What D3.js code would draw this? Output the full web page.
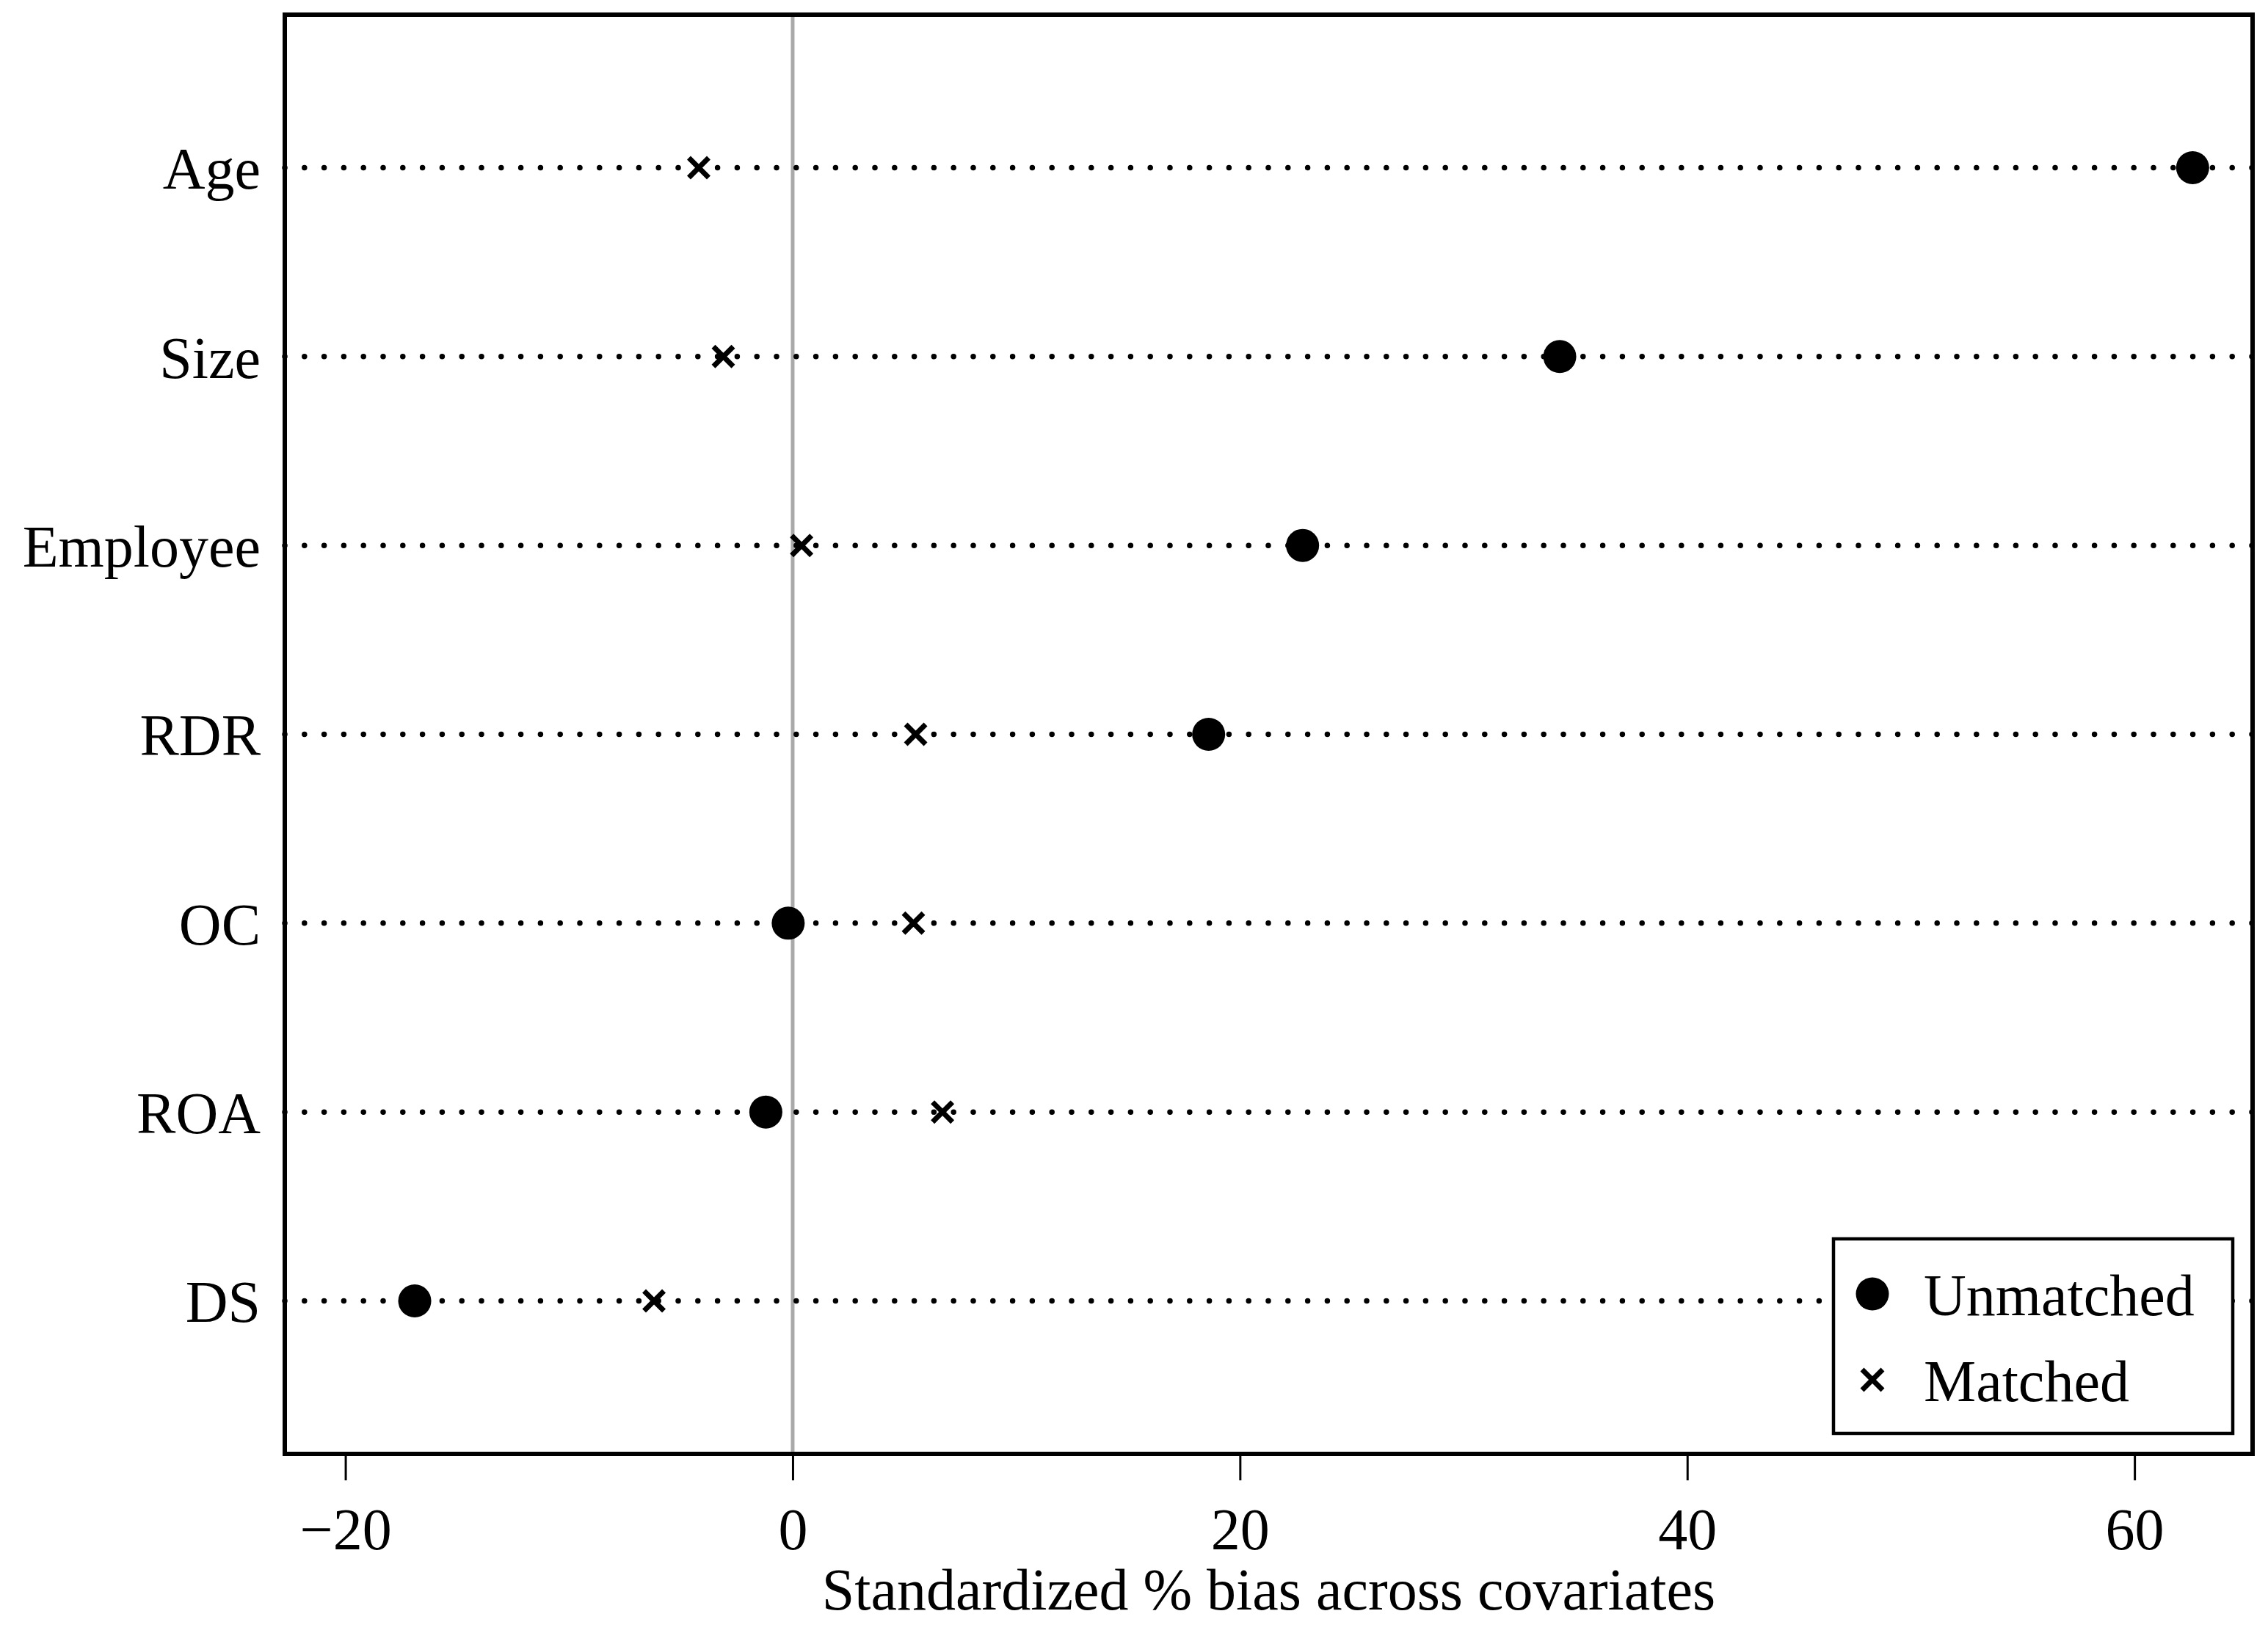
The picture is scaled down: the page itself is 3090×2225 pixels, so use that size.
<!DOCTYPE html>
<html>
<head>
<meta charset="utf-8">
<script src="https://cdn.jsdelivr.net/npm/d3@7"></script>
<style>
  body { margin: 0; background: #fff; }
  text { font-family: "Liberation Serif", "Times New Roman", serif; fill: #000; }
</style>
</head>
<body>
<div id="chart"></div>
<script>
  var covariates = ["Age", "Size", "Employee", "RDR", "OC", "ROA", "DS"],
      unmatched = [62.6, 34.3, 22.8, 18.6, -0.2, -1.2, -16.9],
      matched = [-4.2, -3.1, 0.4, 5.5, 5.4, 6.7, -6.2],
      xTicks = [-20, 0, 20, 40, 60],
      legendLabels = ["Unmatched", "Matched"];

  var W = 3090, H = 2225,
      frame = { left: 388, right: 3069, top: 20, bottom: 1981 },
      fontSize = 80;

  const svg = d3.select("#chart").append("svg")
      .attr("width", W)
      .attr("height", H);

  var x = d3.scaleLinear().domain([-22.71, 65.28]).range([frame.left, frame.right]);
  var y = d3.scalePoint().domain(covariates).range([frame.top, frame.bottom]).padding(0.81);

  // zero reference line
  svg.append("line")
      .attr("x1", x(0)).attr("x2", x(0))
      .attr("y1", frame.top).attr("y2", frame.bottom)
      .attr("stroke", "#a9a9a9")
      .attr("stroke-width", 5);

  // dotted guide lines
  svg.selectAll(".guide")
      .data(covariates)
      .enter().append("line")
        .attr("class", "guide")
        .attr("x1", frame.left).attr("x2", frame.right)
        .attr("y1", function(d) { return y(d); })
        .attr("y2", function(d) { return y(d); })
        .attr("stroke", "#000")
        .attr("stroke-width", 7.5)
        .attr("stroke-linecap", "round")
        .attr("stroke-dasharray", "0 26.8");

  // row labels
  svg.selectAll(".rowLabel")
      .data(covariates)
      .enter().append("text")
        .attr("class", "rowLabel")
        .attr("x", 355)
        .attr("y", function(d) { return y(d); })
        .attr("dy", "0.36em")
        .style("text-anchor", "end")
        .style("font-size", fontSize + "px")
        .text(function(d) { return d; });

  function cross(sel, half) {
    sel.attr("d", "M" + (-half) + "," + (-half) + "L" + half + "," + half +
                  "M" + (-half) + "," + half + "L" + half + "," + (-half))
       .attr("fill", "none")
       .attr("stroke", "#000")
       .attr("stroke-width", 7);
  }

  // matched markers
  svg.selectAll(".matched")
      .data(matched)
      .enter().append("path")
        .attr("class", "matched")
        .attr("transform", function(d, i) { return "translate(" + x(d) + "," + y(covariates[i]) + ")"; })
        .call(cross, 13.5);

  // unmatched markers
  svg.selectAll(".unmatched")
      .data(unmatched)
      .enter().append("circle")
        .attr("class", "unmatched")
        .attr("cx", function(d) { return x(d); })
        .attr("cy", function(d, i) { return y(covariates[i]); })
        .attr("r", 22.5)
        .attr("fill", "#000");

  // frame
  svg.append("rect")
      .attr("x", frame.left).attr("y", frame.top)
      .attr("width", frame.right - frame.left)
      .attr("height", frame.bottom - frame.top)
      .attr("fill", "none")
      .attr("stroke", "#000")
      .attr("stroke-width", 6);

  // x axis
  var xAxis = d3.axisBottom(x)
      .tickValues(xTicks)
      .tickSize(36)
      .tickSizeOuter(0)
      .tickPadding(37);

  var gx = svg.append("g")
      .attr("transform", "translate(0," + frame.bottom + ")")
      .call(xAxis);
  gx.select(".domain").remove();
  gx.selectAll(".tick line").attr("stroke", "#000").attr("stroke-width", 3);
  gx.selectAll(".tick text")
      .style("font-size", fontSize + "px")
      .style("font-family", '"Liberation Serif", "Times New Roman", serif')
      .attr("fill", "#000");

  svg.append("text")
      .attr("x", (frame.left + frame.right) / 2)
      .attr("y", 2193)
      .style("text-anchor", "middle")
      .style("font-size", fontSize + "px")
      .text("Standardized % bias across covariates");

  // legend
  var legend = svg.append("g").attr("class", "legend");
  legend.append("rect")
      .attr("x", 2498).attr("y", 1688)
      .attr("width", 544).attr("height", 265)
      .attr("fill", "#fff")
      .attr("stroke", "#000")
      .attr("stroke-width", 4.5);

  var rows = legend.selectAll(".legendRow")
      .data(legendLabels)
      .enter().append("g")
        .attr("class", "legendRow")
        .attr("transform", function(d, i) { return "translate(2551," + (1763 + i * 117) + ")"; });

  rows.filter(function(d, i) { return i === 0; }).append("circle")
      .attr("r", 22.5).attr("fill", "#000");
  rows.filter(function(d, i) { return i === 1; }).append("path")
      .call(cross, 14);

  rows.append("text")
      .attr("x", 70)
      .attr("dy", "0.36em")
      .style("font-size", fontSize + "px")
      .text(function(d) { return d; });
</script>
</body>
</html>
